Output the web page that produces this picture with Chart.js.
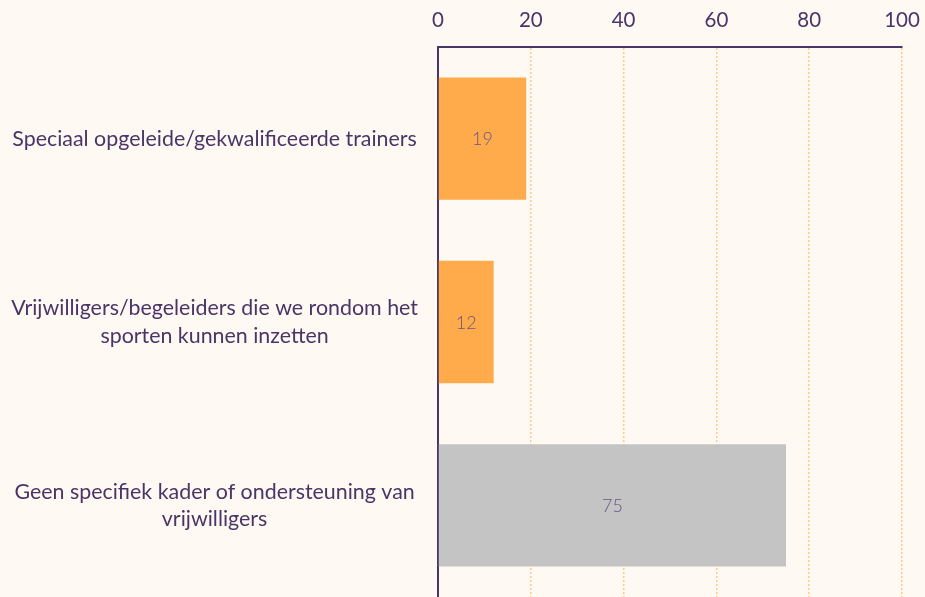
<!DOCTYPE html>
<html>
<head>
<meta charset="utf-8">
<script src="https://cdn.jsdelivr.net/npm/chart.js@4"></script>
<style>
html,body{margin:0;padding:0;background:#FFF9F3;}
#wrap{width:925px;height:597px;position:relative;}
</style>
</head>
<body>
<div id="wrap"><canvas id="c" width="925" height="597"></canvas></div>
<script>
const categories = [
  "Speciaal opgeleide/gekwalificeerde trainers",
  ["Vrijwilligers/begeleiders die we rondom het", "sporten kunnen inzetten"],
  ["Geen specifiek kader of ondersteuning van", "vrijwilligers"]
];
const values = [19, 12, 75];
const barColors = ["#FFAB4B", "#FFAB4B", "#C4C4C4"];
const xTicks = [0, 20, 40, 60, 80, 100];

const textColor = "#4B3466";

const valueLabels = {
  id: 'valueLabels',
  afterDatasetsDraw(chart) {
    const ctx = chart.ctx;
    const meta = chart.getDatasetMeta(0);
    ctx.save();
    ctx.font = '300 18px Lato';
    ctx.fillStyle = '#6A5580';
    ctx.textAlign = 'center';
    ctx.textBaseline = 'middle';
    meta.data.forEach((bar, i) => {
      const x = (bar.base + bar.x) / 2;
      ctx.fillText(String(values[i]), x, bar.y + 1);
    });
    ctx.restore();
  }
};

new Chart(document.getElementById('c'), {
  type: 'bar',
  data: {
    labels: categories,
    datasets: [{
      data: values,
      backgroundColor: barColors,
      borderWidth: 0,
      barPercentage: 0.667,
      categoryPercentage: 1
    }]
  },
  options: {
    indexAxis: 'y',
    responsive: false,
    animation: false,
    layout: { padding: { left: 0, right: 23, top: 0, bottom: -2 } },
    plugins: { legend: { display: false }, tooltip: { enabled: false } },
    scales: {
      x: {
        position: 'top',
        min: 0, max: 100,
        afterBuildTicks(scale) { scale.ticks = xTicks.map(v => ({ value: v })); },
        afterFit(scale) {
          scale.height = 47;
          scale.paddingLeft = 0; scale.paddingRight = 0;
        },
        ticks: {
          color: textColor,
          font: { family: 'Lato', size: 20.5 },
          padding: 14
        },
        grid: {
          color: '#FFC98A',
          lineWidth: 1.5,
          drawTicks: false
        },
        border: { display: true, color: textColor, width: 2, dash: [2, 2] }
      },
      y: {
        afterFit(scale) {
          scale.width = 438;
          scale.paddingTop = 0; scale.paddingBottom = 0;
        },
        ticks: {
          color: textColor,
          font: { family: 'Lato', size: 21.4, lineHeight: 1.28 },
          padding: 20,
          crossAlign: 'center'
        },
        grid: { display: false, drawTicks: false },
        border: { display: true, color: textColor, width: 2 }
      }
    }
  },
  plugins: [valueLabels]
});
</script>
</body>
</html>
